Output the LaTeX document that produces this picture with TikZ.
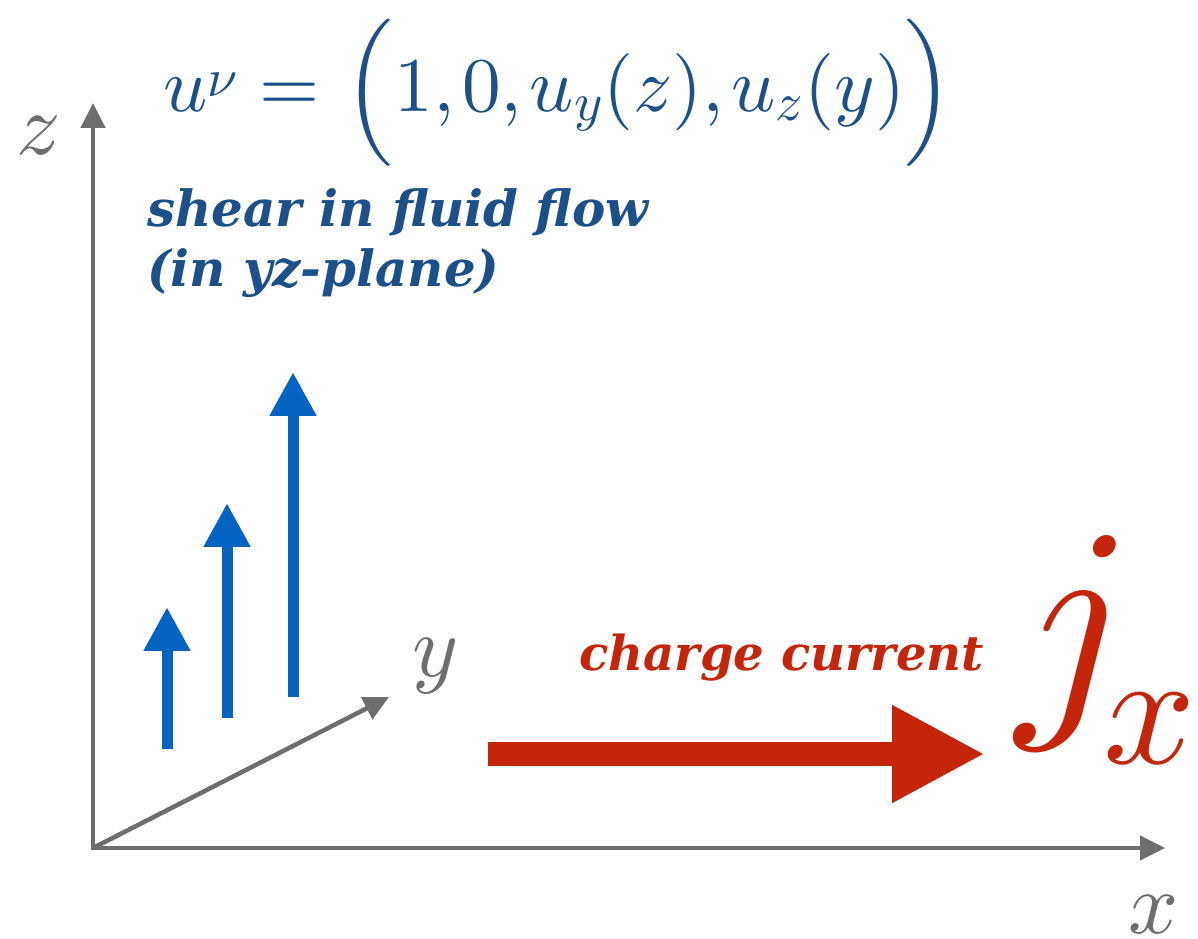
\documentclass[tikz,border=0pt]{standalone}
\usepackage{fontspec}
\usetikzlibrary{arrows.meta}
\DeclareFontShape{OML}{cmm}{m}{it}{<->cmmi10}{}
\DeclareFontShape{OMX}{cmex}{m}{n}{<->cmex10}{}
\DeclareFontShape{OT1}{cmr}{m}{n}{<->cmr10}{}
\newfontfamily\dvs{DejaVu Serif}
\definecolor{axgray}{HTML}{6E6E6E}
\definecolor{fblue}{HTML}{1B508A}
\definecolor{ablue}{HTML}{0563C1}
\definecolor{cred}{HTML}{C5250A}
\begin{document}
\begin{tikzpicture}[x=0.02cm,y=-0.02cm,
  axis/.style={draw=axgray, line width=0.09cm, -{Triangle[length=0.5cm,width=0.48cm]}},
  shearar/.style={draw=ablue, line width=0.22cm, -{Triangle[length=0.88cm,width=0.88cm]}},
  curar/.style={draw=cred, line width=0.48cm, -{Triangle[length=1.86cm,width=1.82cm]}},
  axlabel/.style={text=axgray, inner sep=0, font=\fontsize{50}{50}\selectfont},
  bluetxt/.style={text=fblue, inner sep=0, anchor=base west, font=\dvs\bfseries\itshape\fontsize{28.4}{28.4}\selectfont},
  redtxt/.style={text=cred, inner sep=0, anchor=base west, font=\dvs\bfseries\itshape\fontsize{27.4}{27.4}\selectfont},
  fml/.style={text=fblue, inner sep=0, font=\fontsize{44}{44}\selectfont},
  bigpar/.style={text=fblue, inner sep=0, font=\fontsize{46.5}{46.5}\selectfont},
  jx/.style={text=cred, inner sep=0, anchor=base, font=\fontsize{143}{143}\selectfont},
  jxsub/.style={text=cred, inner sep=0, anchor=base, font=\fontsize{92}{92}\selectfont}
]
\useasboundingbox (0,0) rectangle (1198,939);
% axes
\coordinate (O) at (93,848);
\coordinate (Zend) at (93,103);
\coordinate (Xend) at (1165,848);
\coordinate (Yend) at (389,697);
\draw[axis] ([yshift=-0.045cm]O) -- (Zend);
\draw[axis] ([xshift=-0.045cm]O) -- (Xend);
\draw[axis] (O) -- (Yend);
\node[axlabel] (zl) at (39,136) {$z$};
\node[axlabel] (yl) at (436,666) {$y$};
\node[axlabel] (xl) at (1154,915) {$x$};
% formula
\node[fml, anchor=base west] (lhs) at (163,112) {$u^{\nu}$};
\node[fml, anchor=base] (eq) at (290,112) {$=$};
\node[bigpar] (lp) at (370,93) {$\left(\vcenter{\hbox{\vrule height 78pt width 0pt}}\right.$};
\node[fml, anchor=base] (inner) at (650,112) {$1,0,u_y(z),u_z(y)$};
\node[bigpar] (rp) at (928,93) {$\left.\vcenter{\hbox{\vrule height 78pt width 0pt}}\right)$};
% texts
\node[bluetxt] (t1) at (147,227) {shear in fluid flow};
\node[bluetxt] (t2) at (147,287) {(in yz-plane)};
\node[redtxt] (t3) at (579,670) {charge current};
% shear arrows
\coordinate (a1s) at (167,749); \coordinate (a1e) at (167,607);
\coordinate (a2s) at (227,718); \coordinate (a2e) at (227,503);
\coordinate (a3s) at (293,697); \coordinate (a3e) at (293,372);
\draw[shearar] (a1s) -- (a1e);
\draw[shearar] (a2s) -- (a2e);
\draw[shearar] (a3s) -- (a3e);
% current arrow
\coordinate (cs) at (488,754); \coordinate (ce) at (985,754);
\draw[curar] (cs) -- (ce);
\node[jx] (j) at (1075,701) {$j$};
\node[jxsub] (jsub) at (1150,763) {$x$};
\end{tikzpicture}
\end{document}
